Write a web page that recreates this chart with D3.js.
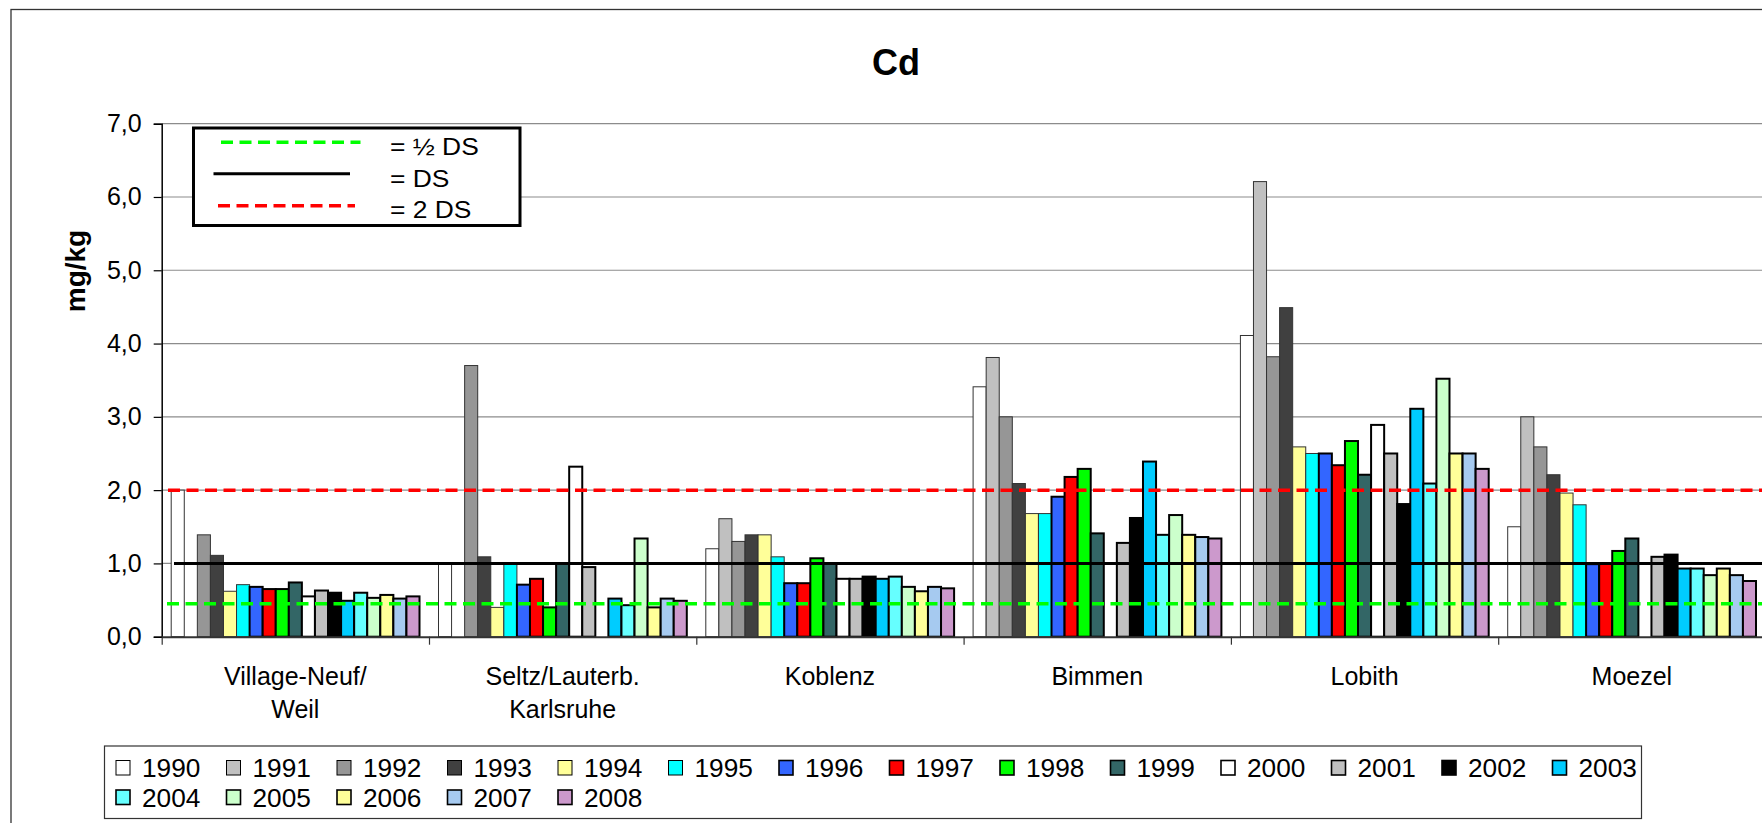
<!DOCTYPE html>
<html>
<head>
<meta charset="utf-8">
<script src="https://cdn.jsdelivr.net/npm/d3@7"></script>
<style>
  html, body { margin: 0; padding: 0; background: #fff; }
  svg { display: block; font-family: "Liberation Sans", Arial, sans-serif; }
</style>
</head>
<body>
<svg id="chart" width="1762" height="823"></svg>
<script>
// sites on the x axis (two-line labels where the original wraps)
var sites = [["Village-Neuf/", "Weil"], ["Seltz/Lauterb.", "Karlsruhe"], ["Koblenz"], ["Bimmen"], ["Lobith"], ["Moezel"]];
var years = [1990, 1991, 1992, 1993, 1994, 1995, 1996, 1997, 1998, 1999,
             2000, 2001, 2002, 2003, 2004, 2005, 2006, 2007, 2008];

// Cd in mg/kg, one value per year (null = no measurement)
var villageWeil    = [2.00, null, 1.39, 1.11, 0.62, 0.71, 0.68, 0.65, 0.65, 0.74, 0.55, 0.63, 0.60, 0.49, 0.60, 0.53, 0.57, 0.52, 0.55];
var seltzKarlsruhe = [1.00, null, 3.70, 1.09, 0.40, 0.99, 0.71, 0.79, 0.40, 1.00, 2.32, 0.95, null, 0.52, 0.43, 1.34, 0.40, 0.52, 0.49];
var koblenz        = [1.20, 1.61, 1.30, 1.39, 1.39, 1.09, 0.73, 0.73, 1.07, 1.00, 0.79, 0.79, 0.82, 0.79, 0.82, 0.68, 0.62, 0.68, 0.66];
var bimmen         = [3.41, 3.81, 3.00, 2.09, 1.68, 1.68, 1.91, 2.18, 2.29, 1.41, null, 1.28, 1.62, 2.39, 1.39, 1.66, 1.39, 1.36, 1.34];
var lobith         = [4.11, 6.21, 3.82, 4.49, 2.59, 2.50, 2.50, 2.34, 2.67, 2.21, 2.89, 2.50, 1.81, 3.11, 2.09, 3.52, 2.50, 2.50, 2.29];
var moezel         = [1.50, 3.00, 2.59, 2.21, 1.96, 1.80, 0.99, 1.00, 1.17, 1.34, null, 1.09, 1.12, 0.93, 0.93, 0.84, 0.93, 0.84, 0.76];
var siteValues = [villageWeil, seltzKarlsruhe, koblenz, bimmen, lobith, moezel];

// reference levels
var halfDS = 0.45, DS = 1.0, twoDS = 2.0;

var yearColors = ["#ffffff", "#c0c0c0", "#969696", "#404040", "#ffff99", "#00ffff", "#3366ff", "#ff0000", "#00ff00", "#336666",
                  "#ffffff", "#c0c0c0", "#000000", "#00ccff", "#66ffff", "#ccffcc", "#ffff99", "#a6caf0", "#cc99cc"];

var svg = d3.select("#chart");
var plotLeft = 161.7, groupW = 267.3, plotTop = 123.7, plotBottom = 636.7;
var plotRight = plotLeft + sites.length * groupW;

var x0 = d3.scaleBand().domain(d3.range(sites.length)).range([plotLeft, plotRight]);
var x1 = d3.scaleBand().domain(years).range([9.5, groupW - 9.5]);
var xEdge = d3.scaleLinear().domain([0, sites.length]).range([plotLeft, plotRight]);
var y = d3.scaleLinear().domain([0, 7]).range([plotBottom, plotTop]);
var fmt = d3.formatLocale({decimal: ",", thousands: ".", grouping: [3], currency: ["", "€"]}).format(".1f");

// stretched text helper (the original chart text is a bit wider than Arial)
function txt(parent, x, yy, str, size, sx, anchor, weight) {
  return parent.append("text")
    .attr("transform", "translate(" + x + "," + yy + ") scale(" + sx + ",1)")
    .attr("text-anchor", anchor || "start")
    .attr("font-size", size)
    .attr("font-weight", weight || "normal")
    .attr("fill", "#000")
    .text(str);
}

// outer chart border
svg.append("rect").attr("x", 11).attr("y", 9.5).attr("width", 1900).attr("height", 1000)
  .attr("fill", "#fff").attr("stroke", "#333").attr("stroke-width", 1.3);

// title + y label
txt(svg, 896, 75, "Cd", 36, 1, "middle", "bold");
svg.append("text").attr("transform", "translate(85,271) rotate(-90)")
  .attr("text-anchor", "middle").attr("font-size", 28).attr("font-weight", "bold").text("mg/kg");

// gridlines
svg.append("g").selectAll("line").data(y.ticks(7).filter(function(d) { return d > 0; })).join("line")
  .attr("x1", plotLeft).attr("x2", plotRight)
  .attr("y1", function(d) { return y(d); }).attr("y2", function(d) { return y(d); })
  .attr("stroke", "#8c8c8c").attr("stroke-width", 1.2);

// bars
var groups = svg.append("g").selectAll("g").data(siteValues).join("g")
  .attr("transform", function(d, i) { return "translate(" + x0(i) + ",0)"; });
groups.selectAll("rect")
  .data(function(vals) { return vals.map(function(v, j) { return {v: v, j: j}; }).filter(function(d) { return d.v != null; }); })
  .join("rect")
  .attr("x", function(d) { return x1(years[d.j]); })
  .attr("width", x1.bandwidth())
  .attr("y", function(d) { return y(d.v); })
  .attr("height", function(d) { return y(0) - y(d.v); })
  .attr("fill", function(d) { return yearColors[d.j]; })
  .attr("stroke", function(d) { return d.j < 6 ? "#333" : "#000"; })
  .attr("stroke-width", function(d) { return d.j < 6 ? 1 : 2; });

// y axis
var yAxis = svg.append("g").attr("transform", "translate(" + plotLeft + ",0)")
  .call(d3.axisLeft(y).ticks(7).tickFormat(fmt).tickSize(8).tickPadding(12));
yAxis.select(".domain").attr("stroke", "#000").attr("stroke-width", 1.5);
yAxis.selectAll(".tick line").attr("stroke", "#000").attr("stroke-width", 1.2);
yAxis.selectAll(".tick text").attr("font-size", 25).attr("font-family", "Liberation Sans, Arial, sans-serif")
  .attr("fill", "#000");

// x axis (ticks at site boundaries)
var xAxis = svg.append("g").attr("transform", "translate(0," + plotBottom + ")")
  .call(d3.axisBottom(xEdge).ticks(sites.length).tickFormat("").tickSize(8).tickSizeOuter(0));
xAxis.select(".domain").attr("stroke", "#333").attr("stroke-width", 2);
xAxis.selectAll(".tick line").attr("stroke", "#333").attr("stroke-width", 1.2);

// site labels
sites.forEach(function(lines, i) {
  var cx = x0(i) + x0.bandwidth() / 2;
  lines.forEach(function(s, k) { txt(svg, cx, 685 + k * 33, s, 25, 1, "middle"); });
});

// reference lines over the bars
var refs = [
  {v: halfDS, color: "#00ff00", dash: "12,6.5", start: 167},
  {v: DS, color: "#000", dash: null, start: 174},
  {v: twoDS, color: "#ff0000", dash: "12,6.5", start: 168}
];
svg.append("g").selectAll("line").data(refs).join("line")
  .attr("x1", function(d) { return d.start; }).attr("x2", plotRight)
  .attr("y1", function(d) { return y(d.v); }).attr("y2", function(d) { return y(d.v); })
  .attr("stroke", function(d) { return d.color; })
  .attr("stroke-width", function(d) { return d.dash ? 3.5 : 3; })
  .attr("stroke-dasharray", function(d) { return d.dash; });

// legend for the reference lines
var refLeg = svg.append("g");
refLeg.append("rect").attr("x", 193.5).attr("y", 128).attr("width", 326.5).attr("height", 97.5)
  .attr("fill", "#fff").attr("stroke", "#000").attr("stroke-width", 3);
var refLegRows = [
  {line: [221, 360.5, 142.3], color: "#00ff00", dash: "12,6.5", label: "= \u00bd DS", base: 155},
  {line: [213.5, 350, 173.7], color: "#000", dash: null, label: "= DS", base: 186.5},
  {line: [218, 355, 205.7], color: "#ff0000", dash: "12,6.5", label: "= 2 DS", base: 218}
];
refLegRows.forEach(function(r) {
  refLeg.append("line").attr("x1", r.line[0]).attr("x2", r.line[1]).attr("y1", r.line[2]).attr("y2", r.line[2])
    .attr("stroke", r.color).attr("stroke-width", r.dash ? 3.5 : 3).attr("stroke-dasharray", r.dash);
  txt(refLeg, 390, r.base, r.label, 24, 1.1, "start");
});

// year legend
var leg = svg.append("g");
leg.append("rect").attr("x", 104.5).attr("y", 746).attr("width", 1537).attr("height", 72.5)
  .attr("fill", "#fff").attr("stroke", "#333").attr("stroke-width", 1.2);
years.forEach(function(yr, i) {
  var col = i % 14, row = Math.floor(i / 14);
  var lx = 116 + col * 110.5, ly = 760.5 + row * 29.5;
  leg.append("rect").attr("x", lx).attr("y", ly).attr("width", 14).attr("height", 14.5)
    .attr("fill", yearColors[i]).attr("stroke", "#000").attr("stroke-width", i < 6 ? 1 : 1.6);
  txt(leg, lx + 26, 777 + row * 30, String(yr), 25, 1.05, "start");
});
</script>
</body>
</html>
